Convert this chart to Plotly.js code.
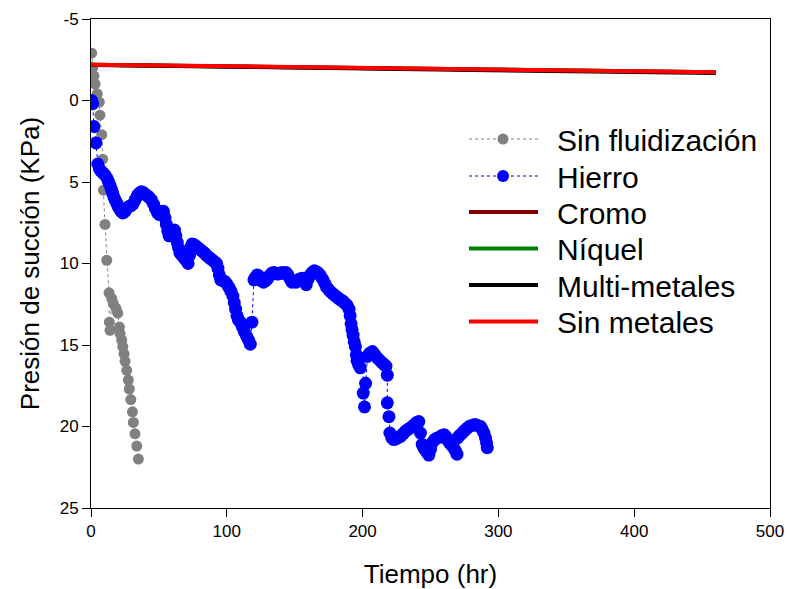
<!DOCTYPE html>
<html>
<head>
<meta charset="utf-8">
<script src="https://cdn.plot.ly/plotly-3.0.1.min.js"></script>
<style>html,body{margin:0;padding:0;background:#fff;}#chart{width:787px;height:589px;}</style>
</head>
<body>
<div id="chart"></div>
<script>
// Sin fluidización (gray)
const sinFluidT = [0.5,1.2,2.2,3.0,4.6,6.1,6.6,7.9,8.6,9.1,10.3,11.6,13.3,13.5,14.0,15.3,16.4,18.4,19.7,20.9,21.4,22.6,23.4,24.3,25.1,26.3,27.5,28.2,29.3,30.5,31.2,32.4,33.7,34.9];
const sinFluidP = [-2.9,-2.0,-1.5,-1.0,-0.4,0.1,0.9,2.1,3.6,5.5,7.6,9.8,11.8,13.6,14.1,12.15,12.45,12.75,13.05,13.9,14.3,14.7,15.1,15.55,16.0,16.55,17.15,17.7,18.35,19.1,19.75,20.45,21.2,22.0];

// Hierro (blue)
const hierroT = [0.5,1.2,2.2,3.7,5.0,6.2,7.5,9.0,10.5,12.0,13.0,14.0,15.0,16.0,17.0,18.0,19.0,20.0,21.0,22.2,23.5,25.0,26.5,28.0,29.5,31.0,32.5,34.0,35.5,37.0,38.5,40.0,41.5,43.0,44.5,46.0,47.5,49.0,50.5,52.0,53.3,54.5,55.5,56.5,57.5,58.7,60.0,61.5,62.5,63.5,64.5,65.5,67.0,68.5,70.0,71.5,72.5,73.5,74.5,76.0,77.5,79.0,80.5,82.0,83.5,85.0,86.5,88.0,89.5,91.0,92.5,93.5,94.5,95.5,97.0,98.5,100.0,101.5,103.0,104.5,105.5,106.5,107.5,108.5,110.0,111.5,113.0,114.5,116.0,117.3,118.5,120.0,121.0,122.5,124.0,125.5,127.0,128.5,130.0,131.5,133.0,134.5,136.0,137.5,139.0,140.5,142.0,143.5,145.0,146.5,148.0,149.5,151.0,152.5,154.0,155.5,157.0,158.5,160.0,161.5,163.0,164.5,166.0,167.5,169.0,170.5,172.0,173.5,175.0,176.5,178.0,179.5,181.0,182.5,184.0,185.5,187.0,188.5,190.0,190.8,191.5,192.2,193.0,193.8,194.7,195.4,195.9,197.0,198.3,202.2,200.5,201.4,203.5,205.3,207.2,209.0,210.9,212.7,214.5,216.0,217.2,218.2,218.2,219.4,220.1,221.5,223.0,224.8,226.5,228.0,229.8,231.5,233.0,234.8,236.5,238.0,239.8,241.4,242.6,243.9,245.0,246.3,247.5,248.8,250.0,251.3,253.0,255.0,257.0,258.5,260.0,261.2,262.4,264.0,265.5,267.0,268.4,269.5,270.0,271.5,273.4,275.0,277.0,278.5,280.0,281.9,283.5,285.0,286.9,288.2,289.3,290.5,291.3,291.8];
const hierroP = [0.0,0.2,1.6,2.6,3.9,4.2,4.35,4.45,4.6,4.8,5.0,5.2,5.45,5.7,5.95,6.15,6.3,6.5,6.65,6.8,6.9,6.8,6.6,6.5,6.45,6.35,6.1,5.85,5.7,5.6,5.65,5.75,5.85,5.95,6.1,6.35,6.65,6.9,7.0,6.95,6.8,7.2,7.6,8.0,8.3,8.2,8.0,7.95,8.3,8.7,9.05,9.35,9.5,9.65,9.8,10.0,9.5,9.0,8.8,8.85,8.95,9.05,9.15,9.25,9.35,9.5,9.6,9.7,9.8,9.9,10.0,10.3,10.7,11.0,11.05,11.1,11.25,11.45,11.7,12.0,12.4,12.8,13.2,13.45,13.6,13.9,14.2,14.45,14.7,14.95,13.6,11.0,10.85,10.7,10.8,11.05,11.15,11.05,10.95,10.75,10.6,10.55,10.6,10.65,10.6,10.55,10.6,10.55,10.7,10.95,11.15,11.1,11.15,11.0,10.95,10.9,11.05,11.3,10.95,10.7,10.55,10.45,10.5,10.6,10.75,10.95,11.2,11.45,11.6,11.75,11.85,11.95,12.05,12.15,12.25,12.3,12.45,12.55,12.8,13.2,13.7,14.05,14.4,14.8,15.1,15.6,15.95,16.2,16.4,17.35,17.95,18.8,15.7,15.5,15.4,15.6,15.8,15.95,16.1,16.2,16.3,16.85,18.55,19.4,20.4,20.7,20.8,20.75,20.65,20.6,20.45,20.3,20.2,20.1,20.0,19.9,19.75,19.7,20.4,21.1,21.3,21.45,21.6,21.75,21.4,21.0,20.8,20.7,20.65,20.55,20.5,20.6,20.8,21.0,21.15,21.3,21.5,21.7,20.7,20.55,20.4,20.25,20.1,20.0,19.95,19.9,19.9,19.95,20.0,20.2,20.4,20.7,21.0,21.3];

// Metal series (nearly flat lines)
const metalT = [0, 115, 230, 345, 460];
const cromoP = [-2.19, -2.08, -1.96, -1.85, -1.73];
const niquelP = [-2.19, -2.08, -1.96, -1.85, -1.73];
const multiP = [-2.18, -2.06, -1.94, -1.81, -1.68];
const sinMetP = [-2.2, -2.09, -1.97, -1.86, -1.74];

// Tick labels
const xTickVals = [0, 100, 200, 300, 400, 500];
const xTickText = ['0', '100', '200', '300', '400', '500'];
const yTickVals = [-5, 0, 5, 10, 15, 20, 25];
const yTickText = ['-5', '0', '5', '10', '15', '20', '25'];

// Legend entries
const legendNames = ['Sin fluidización', 'Hierro', 'Cromo', 'Níquel', 'Multi-metales', 'Sin metales'];
const legendColors = ['#808080', '#0000ff', '#800000', '#008000', '#000000', '#ff0000'];

const FONT = 'Liberation Sans, Arial, Helvetica, sans-serif';

const traces = [
  {x: sinFluidT, y: sinFluidP, name: legendNames[0], mode: 'lines+markers', type: 'scatter',
   line: {color: legendColors[0], width: 1, dash: 'dot'}, marker: {color: legendColors[0], size: 11}},
  {x: hierroT, y: hierroP, name: legendNames[1], mode: 'lines+markers', type: 'scatter',
   line: {color: legendColors[1], width: 1, dash: 'dot'}, marker: {color: legendColors[1], size: 13}},
  {x: metalT, y: cromoP, name: legendNames[2], mode: 'lines', type: 'scatter', line: {color: legendColors[2], width: 4}},
  {x: metalT, y: niquelP, name: legendNames[3], mode: 'lines', type: 'scatter', line: {color: legendColors[3], width: 4}},
  {x: metalT, y: multiP, name: legendNames[4], mode: 'lines', type: 'scatter', line: {color: legendColors[4], width: 4}},
  {x: metalT, y: sinMetP, name: legendNames[5], mode: 'lines', type: 'scatter', line: {color: legendColors[5], width: 4}}
];

// Custom legend geometry (plot area: x 91..770, y 19..508 px)
const PL = 91, PW = 679, PT = 19, PH = 489;
const px2x = p => (p - PL) / PW;
const px2y = p => 1 - (p - PT) / PH;
const rowY = [139, 176, 212, 248.5, 285, 321.5];
const shapes = [];
const annotations = [];
legendNames.forEach((nm, i) => {
  const y = px2y(rowY[i]);
  const isMarker = i < 2;
  shapes.push({type: 'line', xref: 'paper', yref: 'paper', x0: px2x(469), x1: px2x(538), y0: y, y1: y,
    line: {color: legendColors[i], width: isMarker ? 1 : 4, dash: isMarker ? 'dot' : 'solid'}});
  if (isMarker) {
    const r = i === 0 ? 5.5 : 6;
    shapes.push({type: 'circle', xref: 'paper', yref: 'paper', x0: px2x(503 - r), x1: px2x(503 + r),
      y0: px2y(rowY[i] + r), y1: px2y(rowY[i] - r), fillcolor: legendColors[i], line: {width: 0}});
  }
  annotations.push({xref: 'paper', yref: 'paper', x: px2x(555), y: px2y(rowY[i] + 1), xanchor: 'left', yanchor: 'middle',
    text: nm, showarrow: false, font: {family: FONT, size: 30, color: '#000'}});
});

const layout = {
  width: 787, height: 589,
  margin: {l: 91, r: 17, t: 19, b: 81},
  paper_bgcolor: '#ffffff', plot_bgcolor: '#ffffff',
  font: {family: FONT, color: '#000000'},
  showlegend: false,
  shapes: shapes,
  annotations: annotations,
  xaxis: {range: [0, 500], tickmode: 'array', tickvals: xTickVals, ticktext: xTickText, ticks: 'outside', ticklen: 8, tickwidth: 1, tickcolor: '#000',
          showline: true, linecolor: '#000', linewidth: 1, mirror: true, showgrid: false, zeroline: false,
          tickfont: {family: FONT, size: 17}, title: {text: 'Tiempo (hr)', font: {family: FONT, size: 26}, standoff: 29}},
  yaxis: {range: [25, -5], tickmode: 'array', tickvals: yTickVals, ticktext: yTickText, ticks: 'outside', ticklen: 8, tickwidth: 1, tickcolor: '#000',
          showline: true, linecolor: '#000', linewidth: 1, mirror: true, showgrid: false, zeroline: false,
          tickfont: {family: FONT, size: 17}, title: {text: 'Presión de succión (KPa)', font: {family: FONT, size: 26}, standoff: 12}}
};

Plotly.newPlot('chart', traces, layout, {displayModeBar: false, staticPlot: true});
</script>
</body>
</html>
